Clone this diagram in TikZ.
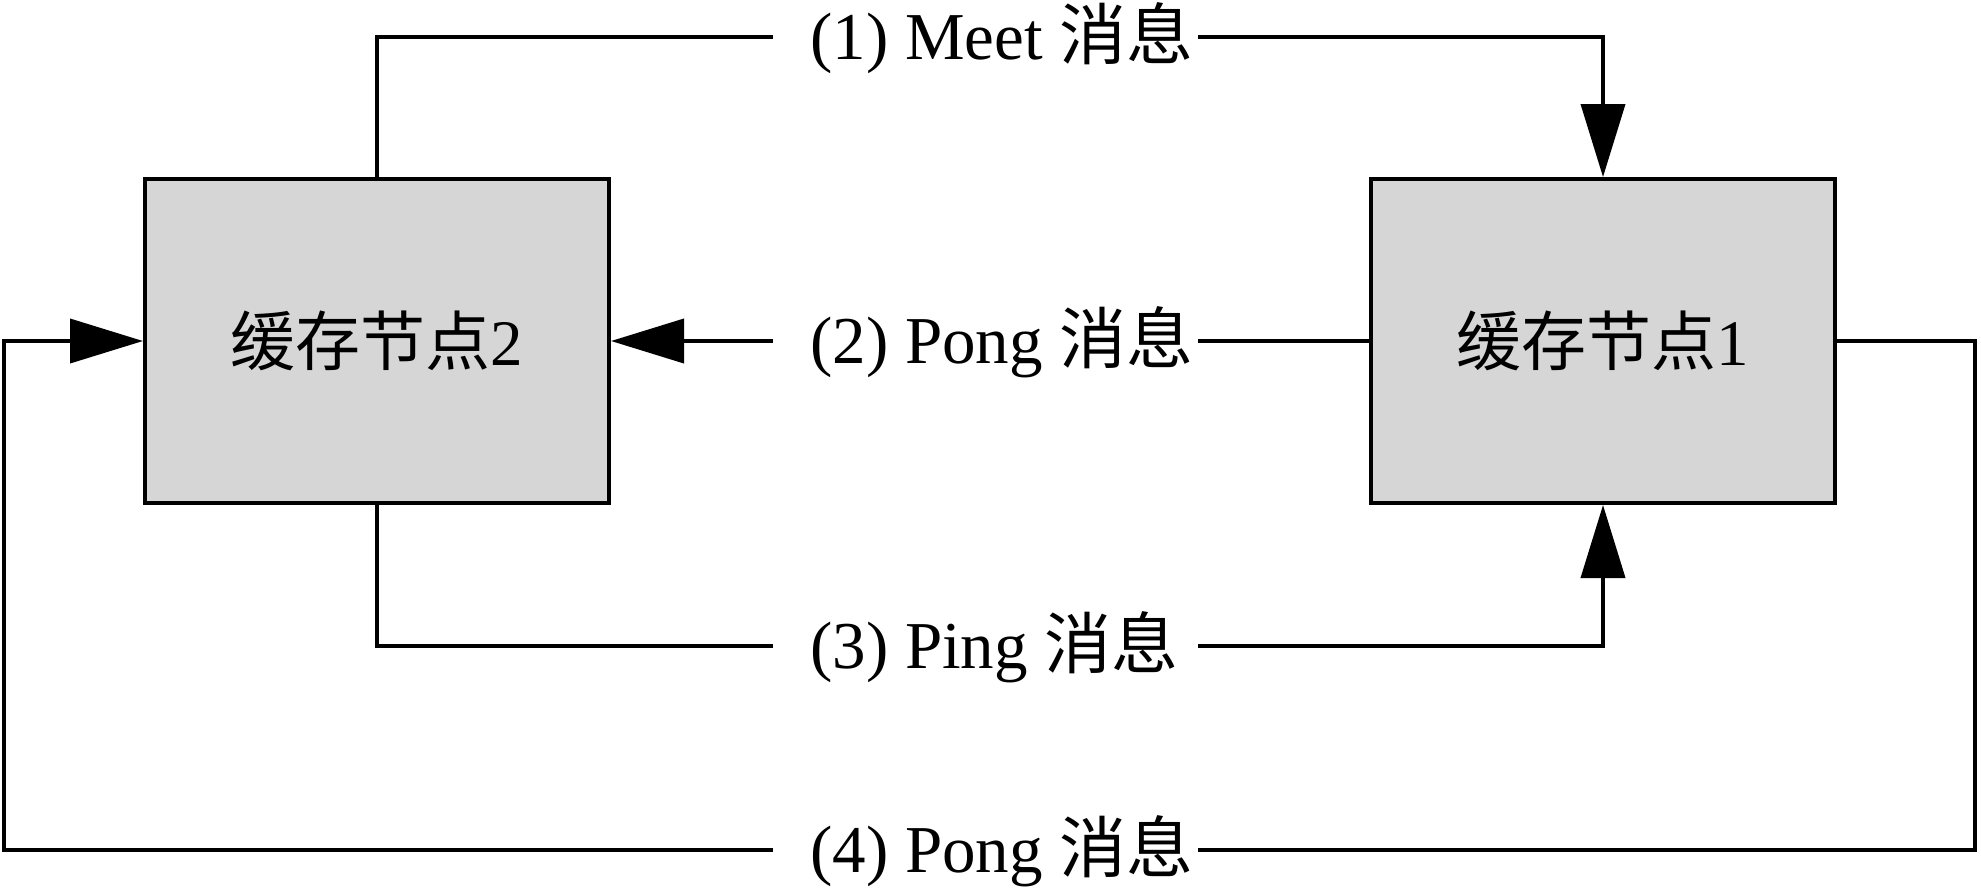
\documentclass[tikz,border=0pt]{standalone}
\usepackage{fontspec}
\setmainfont{Liberation Serif}
\newfontfamily\cjk{Noto Sans CJK SC}
\usetikzlibrary{arrows.meta}
\definecolor{boxgray}{HTML}{D6D6D6}
\begin{document}
\begin{tikzpicture}[x=1pt,y=-1pt,
  cachebox/.style={draw, line width=4pt, fill=boxgray, minimum width=464pt, minimum height=324pt, inner sep=0pt, font=\fontsize{65}{70}\selectfont},
  conn/.style={line width=3.8pt},
  arr/.style={conn, -{Triangle[length=73pt,width=44pt]}},
  msg/.style={anchor=west, fill=white, inner xsep=0pt, inner ysep=4pt, text height=56pt, text depth=12pt, font=\fontsize{67}{72}\selectfont}
]
\useasboundingbox (0,0) rectangle (1981,895);
\node[cachebox] (L) at (377,341) {{\cjk 缓存节点}2};
\node[cachebox] (R) at (1603,341) {{\cjk 缓存节点}1};
\coordinate (t) at (0,37);
\coordinate (p) at (0,646);
\coordinate (bl) at (4,850);
\coordinate (br) at (1975,850);
\draw[arr] (L.north) -- (L.north |- t) -- (R.north |- t) -- (R.north);
\draw[arr] (R.west) -- (L.east);
\draw[arr] (L.south) -- (L.south |- p) -- (R.south |- p) -- (R.south);
\draw[arr] (R.east) -| (br) -- (bl) |- (L.west);
\node[msg] (m1) at (773,37) {\makebox[425pt][l]{\hspace*{37pt}(1) Meet {\cjk 消息}}};
\node[msg] (m2) at (773,341) {\makebox[425pt][l]{\hspace*{37pt}(2) Pong {\cjk 消息}}};
\node[msg] (m3) at (773,646) {\makebox[425pt][l]{\hspace*{37pt}(3) Ping {\cjk 消息}}};
\node[msg] (m4) at (773,850) {\makebox[425pt][l]{\hspace*{37pt}(4) Pong {\cjk 消息}}};
\end{tikzpicture}
\end{document}
